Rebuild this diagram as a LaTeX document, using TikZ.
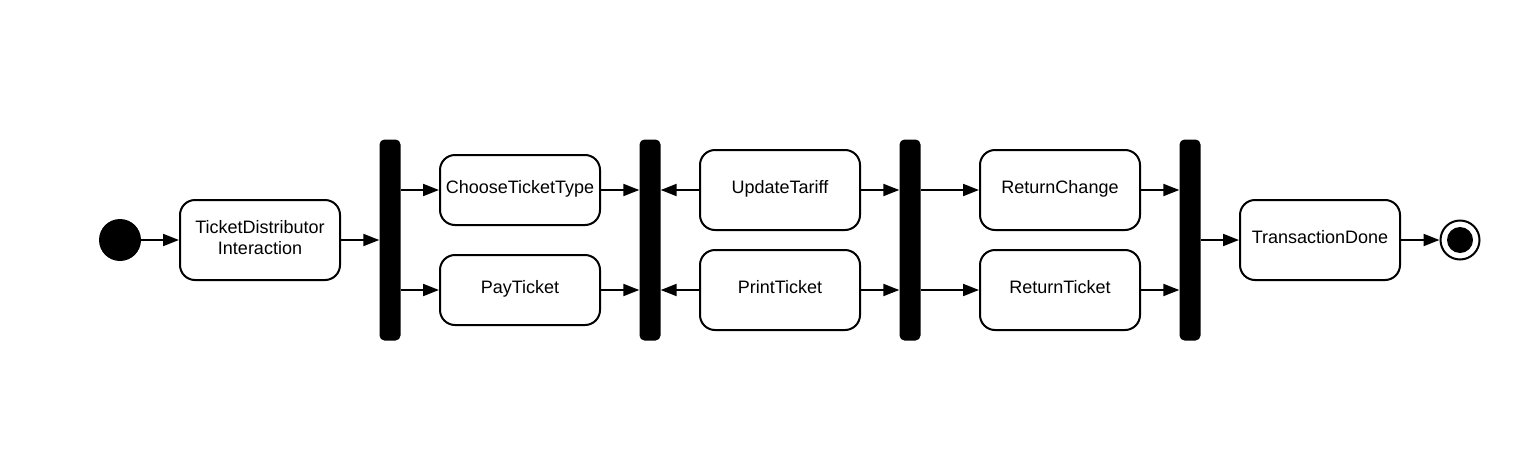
\documentclass[tikz,border=0pt]{standalone}
\usepackage{fontspec}
\setmainfont{Liberation Sans}
\usetikzlibrary{arrows.meta}
\begin{document}
\begin{tikzpicture}[x=1pt,y=-1pt,
  act/.style={draw=black,line width=2pt,rounded corners=15pt,fill=white,
    minimum width=160pt,inner sep=0pt,align=center,
    font=\fontsize{18pt}{21pt}\selectfont},
  one/.style={text height=12pt,text depth=5.6pt},
  lbl/.style={inner sep=0pt,align=center,font=\fontsize{18pt}{21pt}\selectfont},
  bar/.style={fill=black,draw=none,rounded corners=5pt,minimum width=21pt,minimum height=201pt,inner sep=0pt},
  arr/.style={line width=2pt,-{Triangle[length=16pt,width=12pt]}}]
\useasboundingbox (0,0) rectangle (1520,450);
\node[circle,fill=black,minimum size=42pt,inner sep=0pt] (start) at (120,240) {};
\node[act,minimum height=80pt] (td) at (260,240) {};
\node[lbl] (tdtext) at ([yshift=2.5pt]td.center) {TicketDistributor\\Interaction};
\node[bar] (b1) at (390,240) {};
\node[act,one,minimum height=70pt] (ct) at (520,190) {ChooseTicketType};
\node[act,one,minimum height=70pt] (pt) at (520,290) {PayTicket};
\node[bar] (b2) at (650,240) {};
\node[act,one,minimum height=80pt] (ut) at (780,190) {UpdateTariff};
\node[act,one,minimum height=80pt] (pr) at (780,290) {PrintTicket};
\node[bar] (b3) at (910,240) {};
\node[act,one,minimum height=80pt] (rc) at (1060,190) {ReturnChange};
\node[act,one,minimum height=80pt] (rt) at (1060,290) {ReturnTicket};
\node[bar] (b4) at (1190,240) {};
\node[act,one,minimum height=80pt] (tx) at (1320,240) {TransactionDone};
\node[circle,draw=black,line width=2pt,fill=white,minimum size=39pt,inner sep=0pt] (end) at (1460,240) {};
\node[circle,fill=black,minimum size=26pt,inner sep=0pt] (endin) at (end.center) {};
\draw[arr] (start) -- (td);
\draw[arr] (td) -- (td -| b1.west);
\draw[arr] (b1.east |- ct) -- (ct);
\draw[arr] (b1.east |- pt) -- (pt);
\draw[arr] (ct) -- (ct -| b2.west);
\draw[arr] (pt) -- (pt -| b2.west);
\draw[arr] (ut) -- (ut -| b2.east);
\draw[arr] (pr) -- (pr -| b2.east);
\draw[arr] (ut) -- (ut -| b3.west);
\draw[arr] (pr) -- (pr -| b3.west);
\draw[arr] (b3.east |- rc) -- (rc);
\draw[arr] (b3.east |- rt) -- (rt);
\draw[arr] (rc) -- (rc -| b4.west);
\draw[arr] (rt) -- (rt -| b4.west);
\draw[arr] (b4.east |- tx) -- (tx);
\draw[arr] (tx) -- (end);
\end{tikzpicture}
\end{document}
